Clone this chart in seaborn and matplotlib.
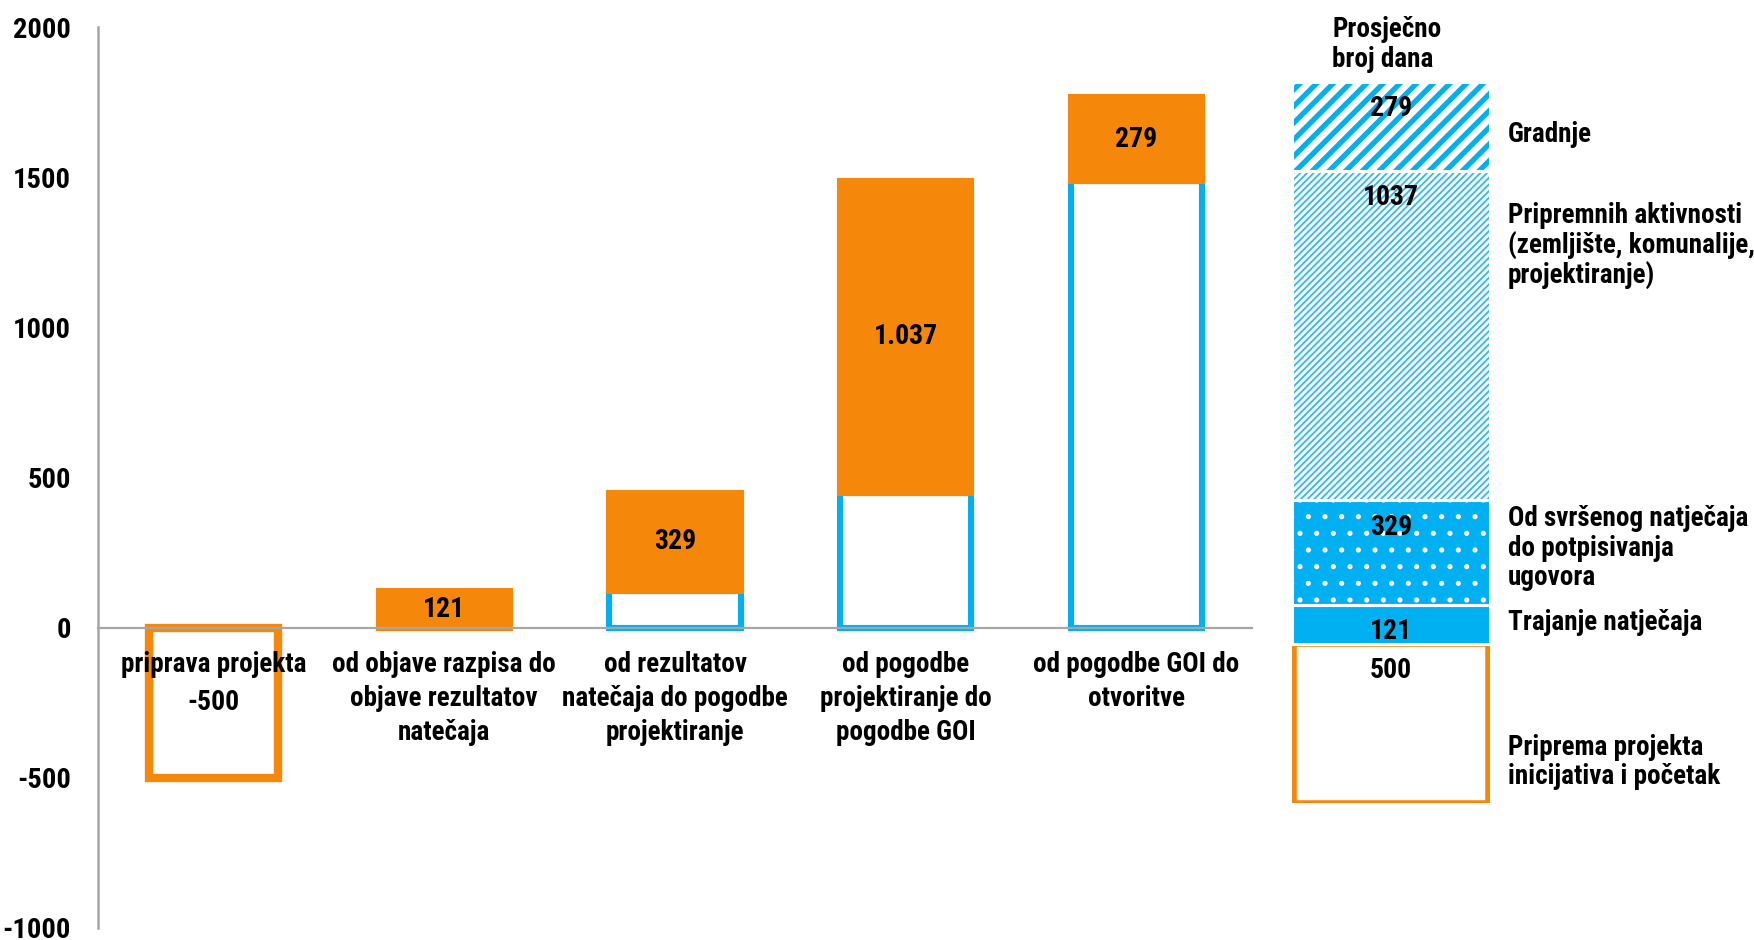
import numpy as np
import pandas as pd
import matplotlib
matplotlib.use("Agg")
import matplotlib.pyplot as plt
from matplotlib import font_manager as fm
import seaborn as sns

# ---------------- data ----------------
categories = ["priprava projekta",
              "od objave razpisa do\nobjave rezultatov\nnatečaja",
              "od rezultatov\nnatečaja do pogodbe\nprojektiranje",
              "od pogodbe\nprojektiranje do\npogodbe GOI",
              "od pogodbe GOI do\notvoritve"]
steps = [-500, 121, 329, 1037, 279]
step_labels = ["-500", "121", "329", "1.037", "279"]
yticks = [-1000, -500, 0, 500, 1000, 1500, 2000]

avg_segments = ["Priprema projekta\ninicijativa i početak",
                "Trajanje natječaja",
                "Od svršenog natječaja\ndo potpisivanja\nugovora",
                "Pripremnih aktivnosti\n(zemljište, komunalije,\nprojektiranje)",
                "Gradnje"]
avg_days = [500, 121, 329, 1037, 279]
avg_title = "Prosječno\nbroj dana"

# ---------------- style ----------------
ORANGE = "#F5870A"
BLUE = "#00B0F0"
GRAY = "#A6A6A6"

sns.set_theme(style="white")
names = {f.name for f in fm.fontManager.ttflist}
FONT = "DejaVu Sans"
for cand in ["Liberation Sans Narrow", "Roboto Condensed", "Open Sans Condensed"]:
    if cand in names:
        FONT = cand
        break
plt.rcParams["font.family"] = [FONT, "DejaVu Sans"]
plt.rcParams["font.weight"] = "bold"
plt.rcParams["axes.axisbelow"] = False

fig = plt.figure(figsize=(17.54, 9.40), dpi=100)
W, H = 1754, 940

# main waterfall axes
ax = fig.add_axes([98 / W, 12 / H, (1252 - 98) / W, (928 - 27) / H])
ax.set_axisbelow(False)
ax.spines["top"].set_visible(False)
ax.spines["right"].set_visible(False)
ax.spines["bottom"].set_position(("data", 0))

# waterfall geometry computed from data
pos_steps = [max(s, 0) for s in steps]
bases = list(np.cumsum([0] + pos_steps[:-1]))
xs = np.arange(len(categories))

# base bars (white with blue outline) via seaborn
df = pd.DataFrame({"cat": categories, "base": bases})
sns.barplot(data=df, x="cat", y="base", color="white", saturation=1,
            width=0.568, ax=ax, edgecolor=BLUE, linewidth=4.4, zorder=1)
for p, b in zip(ax.patches, bases):
    if b == 0:
        p.set_visible(False)

# orange increments stacked on the bases
ax.bar(xs[1:], steps[1:], bottom=bases[1:], width=0.568, facecolor=ORANGE,
       edgecolor=ORANGE, linewidth=4.4, zorder=2)
# preparation bar (negative, outlined)
ax.bar(xs[0], steps[0], bottom=0, width=0.558, facecolor="white",
       edgecolor=ORANGE, linewidth=6, zorder=2)

# value labels centered in each step
for i, (b, s, lab) in enumerate(zip(bases, steps, step_labels)):
    ax.text(xs[i], b + s / 2, lab, ha="center", va="center",
            fontsize=20, fontweight="bold", color="black", zorder=5)

ax.set_xlim(-0.5, 4.5)
ax.set_ylim(-1000, 2000)
ax.set_yticks(yticks)
ax.set_yticklabels([str(v) for v in yticks])
ax.set_xticks(xs)
ax.set_xticklabels(categories)
ax.set_xlabel("")
ax.set_ylabel("")
ax.tick_params(axis="y", length=0, pad=19.5, colors="black", labelsize=20.5)
ax.tick_params(axis="x", length=0, pad=17, colors="black", labelsize=19.5)
for lab in ax.get_xticklabels() + ax.get_yticklabels():
    lab.set_fontweight("bold")
for lab in ax.get_xticklabels():
    lab.set_linespacing(1.32)
ax.spines["bottom"].set_color(GRAY)
ax.spines["bottom"].set_linewidth(1.6)
ax.spines["left"].set_color(GRAY)
ax.spines["left"].set_linewidth(1.8)
ax.spines["bottom"].set_zorder(3)

# ---------------- right stacked bar ----------------
ax2 = fig.add_axes([1292 / W, (H - 802.5) / H, 198 / W, 720.5 / H])
ax2.set_xlim(-0.5, 0.5)
ax2.set_ylim(0, sum(avg_days))
ax2.axis("off")

cum = np.cumsum([0] + avg_days[:-1])
# 0: priprema (outlined orange)
ax2.bar(0, avg_days[0], bottom=cum[0], width=0.98, facecolor="white",
        edgecolor=ORANGE, linewidth=4, zorder=2)
# 1: trajanje (solid blue)
ax2.bar(0, avg_days[1], bottom=cum[1], width=1.0, facecolor=BLUE,
        edgecolor="white", linewidth=0, zorder=2)
# 2: dotted
with plt.rc_context({"hatch.linewidth": 1.3}):
    ax2.bar(0, avg_days[2], bottom=cum[2], width=1.0, facecolor=BLUE,
            edgecolor="white", linewidth=0, hatch=".", zorder=2)
# 3: fine diagonal
with plt.rc_context({"hatch.linewidth": 1.3}):
    ax2.bar(0, avg_days[3], bottom=cum[3], width=1.0, facecolor="white",
            edgecolor="#2FB8F1", linewidth=0, hatch="/////", zorder=2)
# 4: thick diagonal
with plt.rc_context({"hatch.linewidth": 3.8}):
    ax2.bar(0, avg_days[4], bottom=cum[4], width=1.0, facecolor="white",
            edgecolor=BLUE, linewidth=0, hatch="//", zorder=2)
# white separators between segments
ax2.bar([0] * 4, avg_days[1:], bottom=cum[1:], width=1.0, facecolor="none",
        edgecolor="white", linewidth=2.2, zorder=3)

for i, v in enumerate(avg_days):
    ax2.annotate(str(v), xy=(0, cum[i] + v), xytext=(0, -19.4),
                 textcoords="offset points", ha="center", va="center",
                 fontsize=20, fontweight="bold", color="black", zorder=6,
                 annotation_clip=False)

# legend-like labels on the right
label_y = [762, 623, 548, 246, 135]
for txt, y in zip(avg_segments, label_y):
    fig.text(1508 / W, 1 - y / H, txt, ha="left", va="center",
             fontsize=19.5, fontweight="bold", color="black", linespacing=1.12)

fig.text(1332 / W, 1 - 44.5 / H, avg_title, ha="left", va="center",
         fontsize=19.5, fontweight="bold", color="black", linespacing=1.12)

fig.savefig("out.png", dpi=100)
